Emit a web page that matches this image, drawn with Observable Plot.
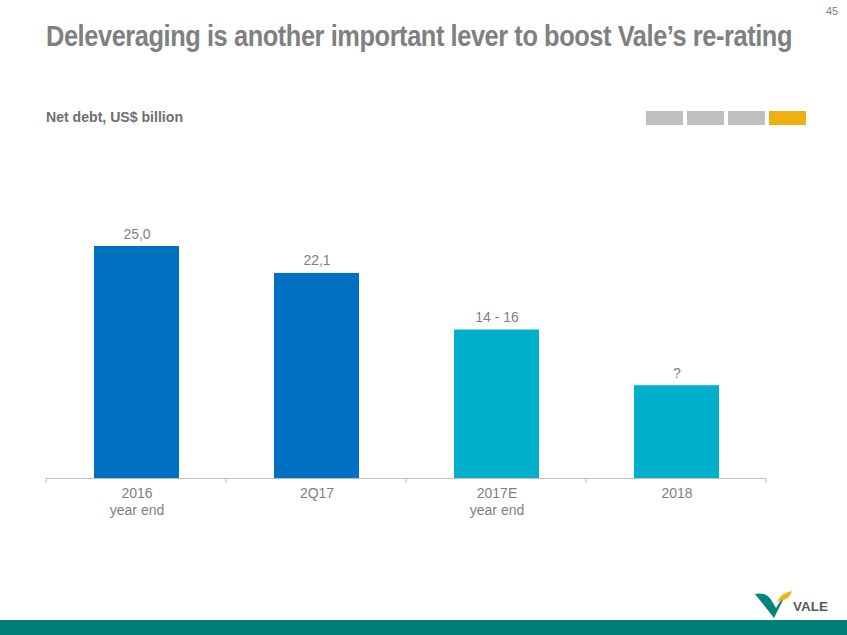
<!DOCTYPE html>
<html><head><meta charset="utf-8">
<script src="https://cdn.jsdelivr.net/npm/d3@7"></script>
<script src="https://cdn.jsdelivr.net/npm/@observablehq/plot@0.6"></script>
<style>
body{margin:0;width:847px;height:635px;overflow:hidden;background:#fff;font-family:"Liberation Sans",Arial,sans-serif;position:relative}
#title{position:absolute;left:46px;top:20px;font-weight:bold;font-size:29px;color:#808080;letter-spacing:-0.5px;white-space:nowrap;transform-origin:0 0}
#page{position:absolute;left:826px;top:5px;font-size:11px;color:#808080}
#subtitle{position:absolute;left:46px;top:109px;font-weight:bold;font-size:14.5px;color:#6f6f6f;white-space:nowrap;transform-origin:0 0}
#legend{position:absolute;left:646px;top:111px;display:flex;gap:4px}
#legend div{width:37px;height:14px}
#chart{position:absolute;left:0;top:140px}
#footer{position:absolute;left:0;top:620px;width:847px;height:15px;background:#007F77}
#logo{position:absolute;left:0;top:0}
</style></head>
<body>
<div id="page">45</div>
<div id="title">Deleveraging is another important lever to boost Vale’s re-rating</div>
<div id="subtitle">Net debt, US$ billion</div>
<div id="legend"></div>
<div id="chart"></div>
<div id="footer"></div>
<svg id="logo" width="847" height="620">
  <path d="M755,594 Q767,591 773,603 L776,608 L781,600 L784,598 L774,618 Z" fill="#00857A"/>
  <path d="M776,603 Q782,592 792,591 Q790,600 779,601 Z" fill="#EDB51B"/>
  <text x="793" y="611" font-family="Liberation Sans, Arial, sans-serif" font-weight="bold" font-size="13.5" fill="#58595B">VALE</text>
</svg>
<script>
const categories = ["2016\nyear end", "2Q17", "2017E\nyear end", "2018"];
const values = [25.0, 22.1, 16, 10];
const valueLabels = ["25,0", "22,1", "14 - 16", "?"];
const groups = ["Actual", "Actual", "Estimate", "Estimate"];
const groupColors = ["#0070C0", "#00B0CA"];
const progressColors = ["#BFBFBF", "#BFBFBF", "#BFBFBF", "#EEB111"];

function fitWidth(id, target) {
  const el = document.getElementById(id);
  const w = el.getBoundingClientRect().width;
  el.style.transform = `scaleX(${target / w})`;
}
fitWidth("title", 746);
fitWidth("subtitle", 137);

const legend = document.getElementById("legend");
progressColors.forEach(c => { const d = document.createElement("div"); d.style.background = c; legend.appendChild(d); });

const data = categories.map((c, i) => ({cat: c, value: values[i], label: valueLabels[i], group: groups[i]}));

function boundaryTicks(index, scales, vals, dimensions) {
  const {width, marginLeft, marginRight, height, marginBottom} = dimensions;
  const n = scales.x.domain().length;
  const step = (width - marginLeft - marginRight) / n;
  const y0 = height - marginBottom;
  const g = d3.create("svg:g");
  for (let i = 0; i <= n; i++) {
    const x = marginLeft + i * step;
    g.append("line").attr("x1", x).attr("x2", x).attr("y1", y0).attr("y2", y0 + 5)
      .attr("stroke", "#BFBFBF").attr("stroke-width", 1);
  }
  return g.node();
}

const chart = Plot.plot({
  width: 847,
  height: 398,
  marginLeft: 46,
  marginRight: 81,
  marginTop: 106,
  marginBottom: 60,
  style: {fontFamily: "Liberation Sans, Arial, sans-serif", background: "transparent"},
  x: {domain: categories, paddingInner: 0.528, paddingOuter: 0.264},
  y: {domain: [0, 25], axis: null},
  color: {domain: ["Actual", "Estimate"], range: groupColors},
  marks: [
    Plot.barY(data, {x: "cat", y: "value", fill: "group"}),
    Plot.text(data, {x: "cat", y: "value", text: "label", dy: -8, lineAnchor: "bottom", fontSize: 14, fill: "#7F7F7F"}),
    Plot.ruleY([0], {stroke: "#BFBFBF", strokeWidth: 1, strokeOpacity: 1}),
    boundaryTicks,
    Plot.axisX({tickSize: 0, tickPadding: 8, fontSize: 14, color: "#7F7F7F", lineHeight: 1.2, label: null})
  ]
});
document.getElementById("chart").appendChild(chart);
</script>
</body></html>
